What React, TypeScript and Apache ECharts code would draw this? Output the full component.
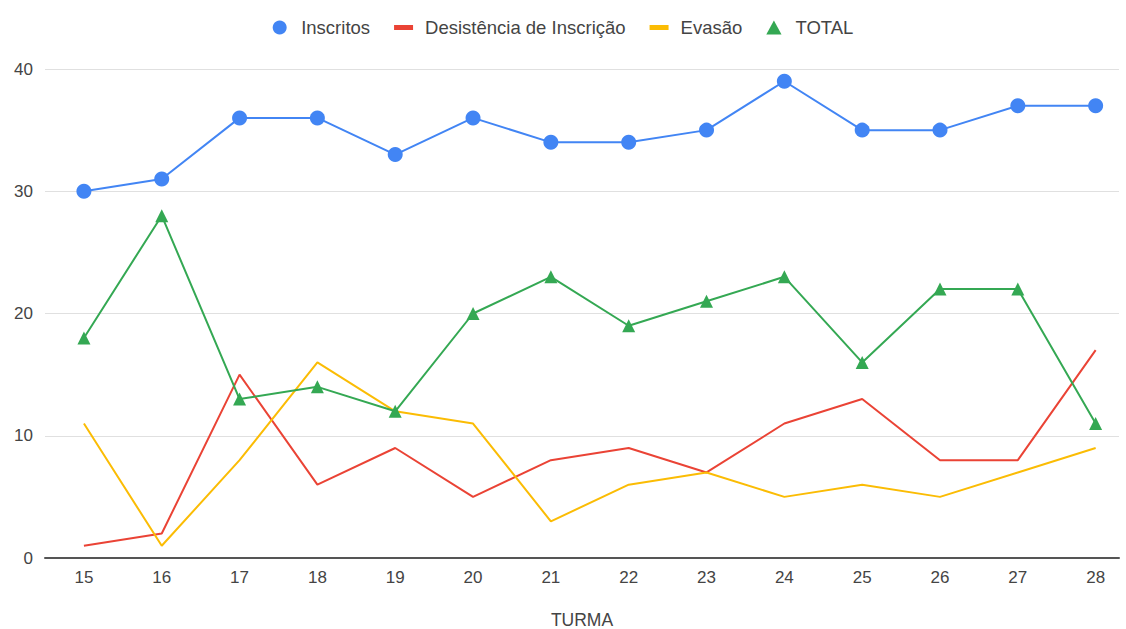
import React, { useEffect, useRef } from "react";
import * as echarts from "echarts";

const turmas = [15, 16, 17, 18, 19, 20, 21, 22, 23, 24, 25, 26, 27, 28];
const inscritos = [30, 31, 36, 36, 33, 36, 34, 34, 35, 39, 35, 35, 37, 37];
const desistencia = [1, 2, 15, 6, 9, 5, 8, 9, 7, 11, 13, 8, 8, 17];
const evasao = [11, 1, 8, 16, 12, 11, 3, 6, 7, 5, 6, 5, 7, 9];
const total = [18, 28, 13, 14, 12, 20, 23, 19, 21, 23, 16, 22, 22, 11];
const yTicks = [0, 10, 20, 30, 40];

const FONT = "'Liberation Sans', Arial, sans-serif";
const pair = (vals: number[]) => turmas.map((t, i) => [t, vals[i]]);

export default function App() {
  const ref = useRef<HTMLDivElement>(null);
  useEffect(() => {
    if (!ref.current) return;
    const chart = echarts.init(ref.current, undefined, { renderer: "svg" });
    const lineIcon = "path://M0,0 L19,0 L19,5 L0,5 Z";
    const triIcon = "path://M6,0 L12,11 L0,11 Z";
    chart.setOption({
      animation: false,
      backgroundColor: "#ffffff",
      textStyle: { fontFamily: FONT },
      legend: {
        top: 13,
        left: "center",
        itemWidth: 19,
        itemHeight: 14,
        itemGap: 24,
        textStyle: { fontSize: 18.5, color: "#444", fontFamily: FONT, padding: [0, 0, 0, 7] },
        data: [
          { name: "Inscritos", icon: "circle" },
          { name: "Desistência de Inscrição", icon: lineIcon },
          { name: "Evasão", icon: lineIcon },
          { name: "TOTAL", icon: triIcon },
        ],
      },
      grid: { left: 45, right: 7, top: 69, bottom: 71, containLabel: false, outerBoundsMode: "none" },
      xAxis: {
        type: "value",
        min: 14.5,
        max: 28.3,
        interval: 0.1,
        name: "TURMA",
        nameLocation: "middle",
        nameGap: 53,
        nameTextStyle: { fontSize: 17.5, color: "#444", fontFamily: FONT, lineHeight: 18 },
        axisLine: { show: true, lineStyle: { color: "#555", width: 2 } },
        axisTick: { show: false },
        splitLine: { show: false },
        axisLabel: {
          fontSize: 17,
          color: "#444",
          fontFamily: FONT,
          margin: 11,
          showMinLabel: true,
          showMaxLabel: true,
          formatter: (v: number) => {
            const r = Math.round(v);
            return Math.abs(v - r) < 1e-6 && turmas.includes(r) ? String(r) : "";
          },
        },
      },
      yAxis: {
        type: "value",
        min: yTicks[0],
        max: yTicks[yTicks.length - 1],
        interval: 10,
        axisLine: { show: false },
        axisTick: { show: false },
        splitLine: { lineStyle: { color: "#e0e0e0", width: 1 } },
        axisLabel: { fontSize: 17, color: "#444", fontFamily: FONT, margin: 12 },
      },
      series: [
        {
          name: "Inscritos",
          type: "line",
          data: pair(inscritos),
          color: "#4285F4",
          symbol: "circle",
          symbolSize: 15,
          lineStyle: { width: 2, color: "#4285F4" },
          itemStyle: { color: "#4285F4" },
          z: 4,
        },
        {
          name: "Desistência de Inscrição",
          type: "line",
          data: pair(desistencia),
          color: "#EA4335",
          symbol: "none",
          lineStyle: { width: 2, color: "#EA4335" },
          itemStyle: { color: "#EA4335" },
          z: 2,
        },
        {
          name: "Evasão",
          type: "line",
          data: pair(evasao),
          color: "#FBBC04",
          symbol: "none",
          lineStyle: { width: 2, color: "#FBBC04" },
          itemStyle: { color: "#FBBC04" },
          z: 2,
        },
        {
          name: "TOTAL",
          type: "line",
          data: pair(total),
          color: "#34A853",
          symbol: "triangle",
          symbolSize: 13,
          lineStyle: { width: 2, color: "#34A853" },
          itemStyle: { color: "#34A853" },
          z: 3,
        },
      ],
    });
    return () => chart.dispose();
  }, []);
  return <div ref={ref} style={{ width: 1126, height: 629, position: "absolute", left: 0, top: 0 }} />;
}
